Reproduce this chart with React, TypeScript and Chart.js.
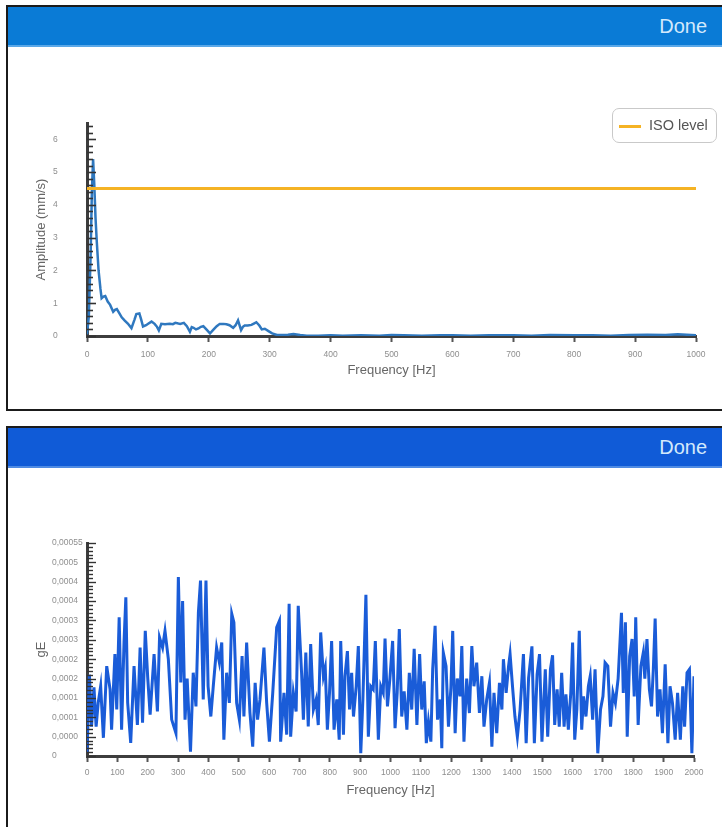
import React, { useEffect, useRef } from 'react';
import { Chart, registerables } from 'chart.js';

Chart.register(...registerables);

const FONT = "'Liberation Sans', Arial, Helvetica, sans-serif";

// ---------- Top chart data (velocity spectrum) ----------
const ampFreq = [0, 3, 6, 8, 10, 12, 14, 16, 19, 22, 24, 27, 30, 34, 38, 43, 46, 49, 53, 57, 62, 67, 73, 78, 81, 86, 89, 92, 97, 101, 106, 111, 115, 118, 122, 128, 136, 141, 145, 150, 153, 159, 164, 169, 172, 175, 179, 183, 187, 191, 196, 202, 208, 213, 218, 224, 229, 234, 240, 244, 248, 253, 256, 259, 264, 270, 274, 278, 283, 287, 292, 298, 304, 312, 320, 330, 339, 350, 361, 380, 400, 420, 450, 480, 500, 520, 550, 580, 600, 630, 660, 700, 730, 760, 800, 830, 860, 890, 920, 950, 970, 985, 1000];
const ampValue = [0.05, 0.6, 2.5, 4.4, 5.4, 4.6, 3.6, 2.9, 2.0, 1.45, 1.15, 1.2, 1.22, 1.05, 0.95, 0.74, 0.8, 0.82, 0.7, 0.57, 0.47, 0.38, 0.24, 0.5, 0.67, 0.69, 0.5, 0.29, 0.33, 0.38, 0.44, 0.37, 0.28, 0.17, 0.37, 0.36, 0.37, 0.36, 0.4, 0.38, 0.37, 0.4, 0.3, 0.13, 0.27, 0.25, 0.2, 0.23, 0.28, 0.3, 0.2, 0.08, 0.2, 0.3, 0.37, 0.37, 0.36, 0.33, 0.25, 0.33, 0.48, 0.18, 0.28, 0.32, 0.32, 0.34, 0.38, 0.42, 0.32, 0.2, 0.22, 0.15, 0.08, 0.03, 0.03, 0.04, 0.06, 0.03, 0.01, 0.01, 0.02, 0.01, 0.02, 0.01, 0.03, 0.02, 0.01, 0.02, 0.02, 0.01, 0.02, 0.02, 0.01, 0.03, 0.02, 0.02, 0.01, 0.03, 0.04, 0.03, 0.05, 0.04, 0.02];
const isoFreq = [0, 1000];
const isoValue = [4.5, 4.5];
const ampYTickLabels = ['0', '1', '2', '3', '4', '5', '6'];

// ---------- Bottom chart data (envelope spectrum, gE) ----------
const gEFreq = [0, 8, 15, 23, 30, 37, 45, 54, 65, 76, 81, 92, 98, 106, 114, 122, 128, 134, 144, 155, 166, 175, 183, 192, 200, 208, 221, 232, 239, 249, 257, 268, 279, 293, 301, 309, 315, 323, 330, 341, 350, 359, 367, 374, 383, 392, 399, 408, 416, 427, 436, 444, 451, 460, 469, 477, 484, 493, 502, 511, 517, 526, 537, 546, 554, 562, 570, 583, 592, 601, 612, 625, 634, 638, 649, 658, 666, 671, 680, 689, 696, 707, 713, 721, 729, 737, 746, 755, 762, 770, 779, 785, 792, 799, 806, 814, 823, 831, 836, 845, 850, 858, 865, 872, 878, 887, 894, 902, 909, 919, 927, 935, 943, 950, 960, 968, 976, 982, 990, 998, 1007, 1015, 1022, 1029, 1037, 1045, 1054, 1062, 1070, 1078, 1087, 1096, 1103, 1111, 1118, 1125, 1133, 1139, 1147, 1155, 1164, 1169, 1174, 1183, 1191, 1199, 1205, 1213, 1220, 1229, 1235, 1242, 1251, 1260, 1268, 1275, 1284, 1293, 1301, 1308, 1317, 1326, 1334, 1341, 1350, 1359, 1367, 1372, 1381, 1389, 1394, 1402, 1410, 1418, 1427, 1438, 1447, 1455, 1466, 1474, 1483, 1491, 1499, 1510, 1518, 1527, 1534, 1541, 1549, 1556, 1564, 1572, 1578, 1586, 1594, 1600, 1607, 1614, 1622, 1630, 1636, 1644, 1652, 1658, 1666, 1674, 1683, 1692, 1700, 1707, 1716, 1725, 1733, 1741, 1750, 1761, 1767, 1774, 1780, 1788, 1796, 1803, 1808, 1816, 1825, 1833, 1838, 1845, 1853, 1860, 1866, 1872, 1880, 1888, 1896, 1905, 1914, 1921, 1929, 1938, 1946, 1955, 1963, 1969, 1977, 1985, 1993, 2000];
const gEValue = [0.000008, 0.00021, 0.000076, 0.000177, 0.000076, 0.000138, 0.00018, 0.000047, 0.000232, 0.000172, 0.000068, 0.000263, 0.00012, 0.000358, 0.000068, 0.000294, 0.00041, 0.000138, 0.000034, 0.000232, 0.00008, 0.00028, 0.000086, 0.000323, 0.000203, 0.000107, 0.000263, 0.000115, 0.000306, 0.00028, 0.000323, 0.00025, 0.000094, 0.000059, 0.000462, 0.00019, 0.0004, 0.000094, 0.0002, 0.000011, 0.000215, 0.000128, 0.00037, 0.000453, 0.000146, 0.000453, 0.00018, 0.000102, 0.00018, 0.00028, 0.000242, 0.000293, 0.000042, 0.000215, 0.000137, 0.000367, 0.000345, 0.000137, 0.000094, 0.000258, 0.000102, 0.000293, 0.000111, 0.000024, 0.000189, 0.000094, 0.000146, 0.00028, 0.000137, 0.000037, 0.000163, 0.000332, 0.000349, 0.000037, 0.000163, 0.000055, 0.000393, 0.00005, 0.000163, 0.000115, 0.000388, 0.000215, 0.000094, 0.000267, 0.000076, 0.000289, 0.00012, 0.000146, 0.00008, 0.000319, 0.000206, 0.000228, 0.000068, 0.000163, 0.000297, 0.000068, 0.000146, 0.000042, 0.000297, 0.000055, 0.000206, 0.000271, 0.00012, 0.000215, 0.000102, 0.00018, 0.000284, 0.000007, 0.000146, 0.000416, 0.00005, 0.00018, 0.000172, 0.000297, 0.000042, 0.00018, 0.000163, 0.000303, 0.000128, 0.0002, 0.000297, 0.000072, 0.000163, 0.000328, 0.000102, 0.000167, 0.000068, 0.000215, 0.00012, 0.000277, 0.00008, 0.000263, 0.00012, 0.000193, 0.000033, 0.000089, 0.000037, 0.000224, 0.000336, 0.000094, 0.000146, 0.00002, 0.000267, 0.000232, 0.000076, 0.000176, 0.000323, 0.000059, 0.0002, 0.000154, 0.000284, 0.000037, 0.0002, 0.000111, 0.000284, 0.00018, 0.000241, 0.000111, 0.000206, 0.000076, 0.000146, 0.000189, 0.000024, 0.000163, 0.000059, 0.000189, 0.00012, 0.00025, 0.000163, 0.000232, 0.000263, 0.00018, 0.000102, 0.00005, 0.00012, 0.000263, 0.000033, 0.000202, 0.000283, 0.000033, 0.000211, 0.000263, 0.000037, 0.000224, 0.00005, 0.000224, 0.00026, 0.00008, 0.000172, 0.000076, 0.000215, 0.000076, 0.000159, 0.000068, 0.000163, 0.000293, 0.000042, 0.00012, 0.000323, 0.000068, 0.000154, 0.000102, 0.00018, 0.000206, 0.000094, 0.000224, 0.000007, 0.00012, 0.000154, 0.000241, 0.000232, 0.000076, 0.000163, 0.000137, 0.0002, 0.00037, 0.000163, 0.000345, 0.00005, 0.000258, 0.000302, 0.000154, 0.000358, 0.00008, 0.000232, 0.000267, 0.0002, 0.000302, 0.000172, 0.000128, 0.000224, 0.000355, 0.000102, 0.000172, 0.000059, 0.000237, 0.000033, 0.00018, 0.000137, 0.000042, 0.000163, 0.000042, 0.00018, 0.000076, 0.000215, 0.000224, 0.000007, 0.000206];
const gEYTickLabels = ['0', '0,0000', '0,0001', '0,0001', '0,0002', '0,0002', '0,0003', '0,0003', '0,0004', '0,0004', '0,0005', '0,00055'];

const toPoints = (xs: number[], ys: number[]) => xs.map((x, i) => ({ x, y: ys[i] }));

// Draws small tick marks on the inside of the y axis, positioned by the scale itself.
const innerTicksPlugin = {
  id: 'innerTicks',
  afterDraw(chart: any, _args: any, opts: any) {
    const s = chart.scales.y;
    if (!s || !opts || !opts.minor) return;
    const ctx = chart.ctx;
    const x0 = s.right;
    ctx.save();
    ctx.strokeStyle = opts.color;
    ctx.lineWidth = opts.width;
    const n = Math.floor((s.max - s.min) / opts.minor + 1e-6);
    for (let i = 0; i <= n; i++) {
      const v = s.min + i * opts.minor;
      const r = v / opts.major;
      const isMajor = Math.abs(r - Math.round(r)) < 1e-6;
      const y = Math.round(s.getPixelForValue(v)) + 0.5;
      const len = isMajor ? opts.majorLen : opts.minorLen;
      ctx.beginPath();
      ctx.moveTo(x0, y);
      ctx.lineTo(x0 + len, y);
      ctx.stroke();
    }
    ctx.restore();
  },
};

const AXIS_COLOR = '#3d3d3d';
const TICK_LABEL_COLOR = '#8e8e8e';
const TITLE_COLOR = '#666666';

function xScale(max: number, yAxisHeight: number, labelPad: number) {
  return {
    type: 'linear',
    min: 0,
    max,
    afterFit: (scale: any) => {
      scale.height = yAxisHeight;
    },
    grid: {
      display: true,
      drawOnChartArea: false,
      drawTicks: true,
      tickLength: 6,
      tickWidth: 2,
      tickColor: '#555555',
      color: '#555555',
    },
    border: { display: true, color: AXIS_COLOR, width: 3 },
    ticks: {
      stepSize: 100,
      autoSkip: false,
      maxRotation: 0,
      padding: labelPad,
      color: TICK_LABEL_COLOR,
      font: { family: FONT, size: 8.5 },
      callback: (v: number) => String(v),
    },
    title: {
      display: true,
      text: 'Frequency [Hz]',
      color: TITLE_COLOR,
      font: { family: FONT, size: 13 },
      padding: { top: 2, bottom: 8 },
    },
  };
}

function topConfig(): any {
  return {
    type: 'line',
    data: {
      datasets: [
        {
          label: 'ISO level',
          data: toPoints(isoFreq, isoValue),
          borderColor: '#F5B324',
          borderWidth: 3,
          pointRadius: 0,
          tension: 0,
          fill: false,
        },
        {
          label: 'Amplitude',
          data: toPoints(ampFreq, ampValue),
          borderColor: '#2F78BF',
          borderWidth: 2.5,
          pointRadius: 0,
          tension: 0,
          fill: false,
        },
      ],
    },
    options: {
      responsive: false,
      animation: false,
      parsing: true,
      layout: { padding: { top: 76, right: 26, left: 45, bottom: 23 } },
      plugins: {
        legend: { display: false },
        tooltip: { enabled: false },
        innerTicks: { minor: 0.2, major: 1, minorLen: 6, majorLen: 9, color: '#333333', width: 1.6 },
      },
      scales: {
        x: xScale(1000, 50, 8),
        y: {
          type: 'linear',
          min: 0,
          max: 6.5,
          afterFit: (scale: any) => {
            scale.width = 34;
          },
          grid: { display: true, drawOnChartArea: false, drawTicks: false },
          border: { display: true, color: AXIS_COLOR, width: 3 },
          ticks: {
            stepSize: 1,
            includeBounds: false,
            autoSkip: false,
            crossAlign: 'far',
            color: TICK_LABEL_COLOR,
            font: { family: FONT, size: 8.5 },
            callback: (v: number) => (Number.isInteger(v) ? ampYTickLabels[v] ?? '' : ''),
          },
          title: {
            display: true,
            text: 'Amplitude (mm/s)',
            color: TITLE_COLOR,
            font: { family: FONT, size: 13 },
            padding: { top: -19, bottom: 0 },
          },
        },
      },
    },
    plugins: [innerTicksPlugin],
  };
}

function bottomConfig(): any {
  const step = 0.00005;
  return {
    type: 'line',
    data: {
      datasets: [
        {
          label: 'gE',
          data: toPoints(gEFreq, gEValue),
          borderColor: '#1A5CD8',
          borderWidth: 3,
          pointRadius: 0,
          tension: 0,
          fill: false,
        },
      ],
    },
    options: {
      responsive: false,
      animation: false,
      layout: { padding: { top: 75, right: 28, left: 44, bottom: 21 } },
      plugins: {
        legend: { display: false },
        tooltip: { enabled: false },
        innerTicks: { minor: 0.00001, major: step, minorLen: 6, majorLen: 9, color: '#333333', width: 1.4 },
      },
      scales: {
        x: { ...xScale(2000, 50, 6) },
        y: {
          type: 'linear',
          min: 0,
          max: 0.00055,
          afterFit: (scale: any) => {
            scale.width = 35;
          },
          grid: { display: true, drawOnChartArea: false, drawTicks: false },
          border: { display: true, color: AXIS_COLOR, width: 3 },
          ticks: {
            stepSize: step,
            autoSkip: false,
            crossAlign: 'far',
            color: TICK_LABEL_COLOR,
            font: { family: FONT, size: 8.5 },
            callback: (v: number) => gEYTickLabels[Math.round(v / step)] ?? '',
          },
          title: {
            display: true,
            text: 'gE',
            color: TITLE_COLOR,
            font: { family: FONT, size: 13 },
            padding: { top: -18, bottom: 0 },
          },
        },
      },
    },
    plugins: [innerTicksPlugin],
  };
}

const headerText: React.CSSProperties = {
  position: 'absolute',
  right: 15,
  top: 0,
  height: 38,
  lineHeight: '38px',
  fontSize: 20,
  color: '#d3e9fc',
  fontFamily: FONT,
};

export default function App() {
  const topRef = useRef<HTMLCanvasElement | null>(null);
  const botRef = useRef<HTMLCanvasElement | null>(null);

  useEffect(() => {
    const c1 = new Chart(topRef.current as HTMLCanvasElement, topConfig());
    const c2 = new Chart(botRef.current as HTMLCanvasElement, bottomConfig());
    return () => {
      c1.destroy();
      c2.destroy();
    };
  }, []);

  return (
    <div
      style={{
        position: 'fixed',
        left: 0,
        top: 0,
        width: 722,
        height: 827,
        overflow: 'hidden',
        background: '#ffffff',
        fontFamily: FONT,
      }}
    >
      {/* Top panel */}
      <div style={{ position: 'absolute', left: 6, top: 5, width: 760, height: 402, border: '2px solid #1b1b1b' }} />
      <div
        style={{
          position: 'absolute',
          left: 8,
          top: 7,
          width: 714,
          height: 38,
          background: '#0A7BD6',
          borderBottom: '2px solid #5AA8E8',
        }}
      >
        <span style={headerText}>Done</span>
      </div>
      <canvas
        ref={topRef}
        width={714}
        height={362}
        style={{ position: 'absolute', left: 8, top: 47, width: 714, height: 362 }}
      />
      <div
        style={{
          position: 'absolute',
          left: 612,
          top: 108,
          width: 105,
          height: 35,
          boxSizing: 'border-box',
          border: '1px solid #c9c9c9',
          borderRadius: 7,
          background: '#ffffff',
        }}
      >
        <span
          style={{ position: 'absolute', left: 6, top: 16, width: 22, height: 3, background: '#F5B324' }}
        />
        <span
          style={{
            position: 'absolute',
            left: 36,
            top: 0,
            lineHeight: '33px',
            fontSize: 14.5,
            color: '#555555',
            fontFamily: FONT,
            whiteSpace: 'nowrap',
          }}
        >
          ISO level
        </span>
      </div>

      {/* Bottom panel */}
      <div style={{ position: 'absolute', left: 6, top: 426, width: 760, height: 460, border: '2px solid #1b1b1b' }} />
      <div
        style={{
          position: 'absolute',
          left: 8,
          top: 428,
          width: 714,
          height: 38,
          background: '#105BD7',
          borderBottom: '2px solid #4F8BE3',
        }}
      >
        <span style={headerText}>Done</span>
      </div>
      <canvas
        ref={botRef}
        width={714}
        height={359}
        style={{ position: 'absolute', left: 8, top: 468, width: 714, height: 359 }}
      />
    </div>
  );
}
